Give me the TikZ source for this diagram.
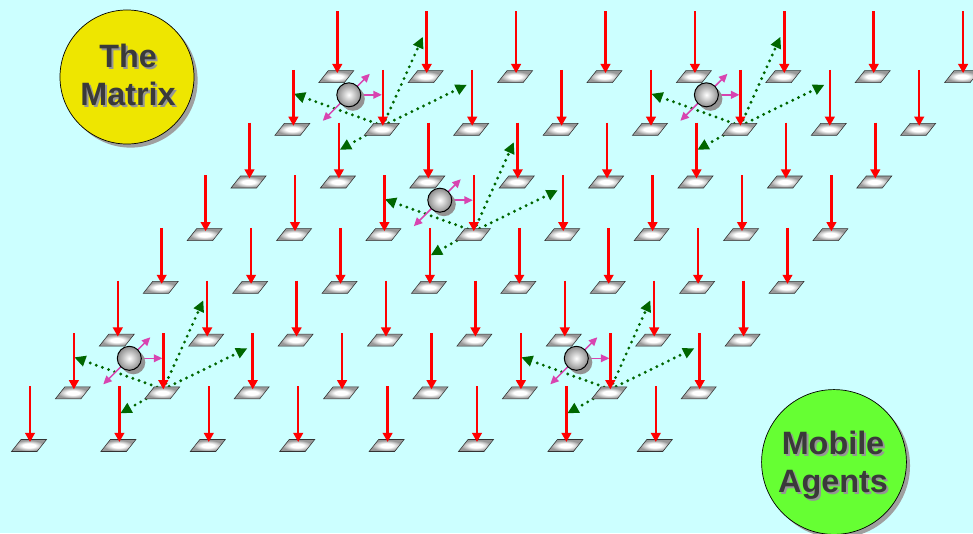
\documentclass[tikz,border=0pt]{standalone}
\usepackage{fontspec}
\setmainfont{Liberation Sans}
\usetikzlibrary{arrows.meta,calc,shadows}
\definecolor{bg}{HTML}{CCFFFF}
\definecolor{feedc}{HTML}{FF0000}
\definecolor{hopc}{HTML}{006600}
\definecolor{spinc}{HTML}{D844B0}
\definecolor{matrixc}{HTML}{EEE600}
\definecolor{agentc}{HTML}{66FF33}
\definecolor{ttlc}{HTML}{3A3A3A}
\definecolor{ttlshc}{HTML}{959595}
\pgfdeclareradialshading{platefill}{\pgfpoint{0bp}{0bp}}{color(0bp)=(white); color(9bp)=(white); color(22bp)=(gray!80); color(50bp)=(gray!80)}
\tikzset{
  plate/.style={draw=gray!40!black,line width=0.4pt,shading=platefill},
  feedarr/.style={-{Triangle[length=6.5pt,width=6.8pt]},line width=1.8pt,draw=feedc},
  hop/.style={-{Triangle[length=8pt,width=7.5pt]},line width=2.3pt,draw=hopc,dash pattern=on 0pt off 4.6pt,line cap=round},
  spin/.style={-{Triangle[length=6pt,width=5.5pt]},line width=1.1pt,draw=spinc},
  ball/.style={circle,draw=black,line width=0.7pt,inner color=white,outer color=gray!90,minimum size=0.6cm,inner sep=0pt,general shadow={shadow xshift=0.1cm,shadow yshift=-0.1cm,fill=gray!85}},
  disc/.style={circle,draw=black,line width=0.5pt,minimum size=3.35cm,inner sep=0pt,general shadow={shadow xshift=0.09cm,shadow yshift=-0.09cm,fill=gray!75}},
  ttl/.style={font=\fontsize{23}{27}\selectfont\bfseries,align=center,text=ttlc,inner sep=0pt},
  ttlsh/.style={ttl,text=ttlshc},
}
\begin{document}
\begin{tikzpicture}[x=0.025cm,y=-0.025cm]
\fill[bg] (0,0) rectangle (973,533);
\useasboundingbox (0,0) rectangle (973,533);
% sheared grid of landing points
\foreach \i in {0,...,7}
  \foreach \j in {0,...,7}
    \coordinate (t-\i-\j) at (30+89.4*\i+43.9*\j, 442-52.7*\j);
% agent moves to the four neighbours
\foreach \i/\j in {1/6,5/6,3/4,1/1,6/1}{
  \draw[hop] (t-\i-\j) -- ($(t-\i-\j)+(-89,-32)$);
  \draw[hop] (t-\i-\j) -- ($(t-\i-\j)+(40,-89)$);
  \draw[hop] (t-\i-\j) -- ($(t-\i-\j)+(84,-41)$);
  \draw[hop] (t-\i-\j) -- ($(t-\i-\j)+(-43,24)$);
}
% plates and incoming arrows
\foreach \i in {0,...,7}
  \foreach \j in {0,...,7}{
    \path[plate] ($(t-\i-\j)+(-9,-2.5)$) -- ++(25.5,0) -- ++(-9.5,12) -- ++(-25.5,0) -- cycle;
    \pgfmathsetmacro\alen{\j==7?62:56}
    \draw[feedarr] ($(t-\i-\j)+(0,-\alen)$) -- (t-\i-\j);
  }
% mobile agents
\foreach \i/\j/\n in {1/6/1,5/6/2,3/4/3,1/1/4,6/1/5}{
  \coordinate (s-\n) at ($(t-\i-\j)+(-34,-31)$);
  \draw[spin] (s-\n) -- ++(21,-21);
  \draw[spin] (s-\n) -- ++(-26,26);
  \draw[spin] (s-\n) -- ++(33,0);
  \node[ball] (ag-\n) at (s-\n) {};
}
% titles
\node[disc,fill=matrixc] (matrix) at (127,77) {};
\node[ttlsh] (matrix-sh) at (130,77) {The\\Matrix};
\node[ttl] (matrix-txt) at (128,75) {The\\Matrix};
\node[disc,fill=agentc,minimum size=3.62cm] (agents) at (834,462) {};
\node[ttlsh] (agents-sh) at (835,467) {Mobile\\Agents};
\node[ttl] (agents-txt) at (833,465) {Mobile\\Agents};
\end{tikzpicture}
\end{document}
